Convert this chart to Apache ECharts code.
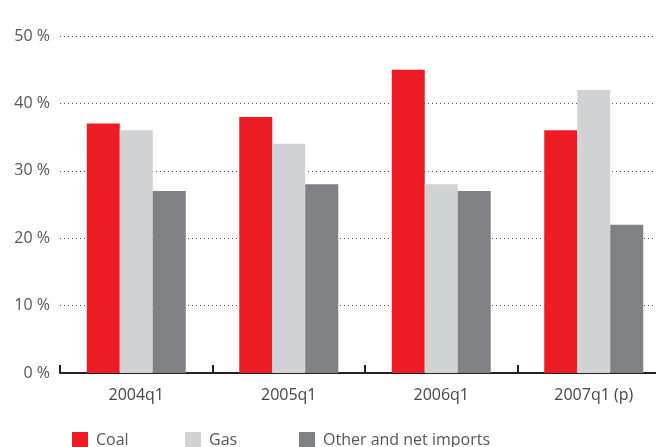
<!DOCTYPE html>
<html>
<head>
<meta charset="utf-8">
<script src="https://cdn.jsdelivr.net/npm/echarts@6/dist/echarts.min.js"></script>
<style>
html,body{margin:0;padding:0;background:#fff;}
#chart{width:656px;height:447px;}
</style>
</head>
<body>
<div id="chart"></div>
<script>
var categories = ['2004q1', '2005q1', '2006q1', '2007q1 (p)'];
var coal = [37, 38, 45, 36];
var gas = [36, 34, 28, 42];
var other = [27, 28, 27, 22];
var seriesNames = ['Coal', 'Gas', 'Other and net imports'];
var colors = ['#ED1C24', '#D1D2D4', '#808184'];

var chart = echarts.init(document.getElementById('chart'));
var font = 'Open Sans';

function legendAt(name, left) {
	return {
		data: [name],
		left: left,
		top: 427,
		itemWidth: 16,
		itemHeight: 16,
		icon: 'rect',
		textStyle: { color: '#555', fontSize: 16, fontFamily: font, padding: [0, 0, 0, 3] }
	};
}

var option = {
	animation: false,
	color: colors,
	// plot runs past the right edge, last category is clipped
	grid: { left: 60, width: 610, top: 36, bottom: 74, outerBoundsMode: 'none' },
	legend: [
		legendAt(seriesNames[0], 67),
		legendAt(seriesNames[1], 180),
		legendAt(seriesNames[2], 294)
	],
	xAxis: {
		type: 'category',
		data: categories,
		boundaryGap: true,
		axisLine: { show: true, lineStyle: { color: '#222', width: 2 } },
		axisTick: { show: true, alignWithLabel: false, inside: true, length: 8, lineStyle: { color: '#222', width: 2 } },
		axisLabel: { color: '#444', fontSize: 16, fontFamily: font, margin: 14 }
	},
	yAxis: {
		type: 'value',
		min: 0,
		max: 50,
		interval: 10,
		axisLine: { show: false },
		axisTick: { show: false },
		axisLabel: { color: '#555', fontSize: 16, fontFamily: font, margin: 10, formatter: '{value} %' },
		splitLine: { lineStyle: { type: [1, 3], color: '#555', width: 1 } }
	},
	series: [
		{ name: seriesNames[0], type: 'bar', data: coal, barWidth: 33, barGap: '0%' },
		{ name: seriesNames[1], type: 'bar', data: gas, barWidth: 33, barGap: '0%' },
		{ name: seriesNames[2], type: 'bar', data: other, barWidth: 33, barGap: '0%' }
	]
};
chart.setOption(option);
</script>
</body>
</html>
